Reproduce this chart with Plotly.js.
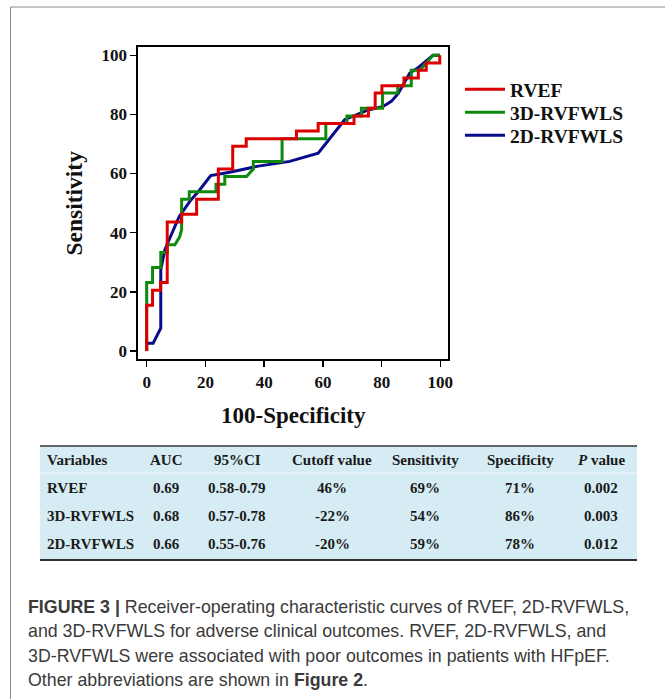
<!DOCTYPE html>
<html>
<head>
<meta charset="utf-8">
<script src="https://cdn.plot.ly/plotly-3.0.1.min.js"></script>
<style>
  html, body { margin: 0; padding: 0; background: #fff; }
  #chart { width: 665px; height: 699px; }
</style>
</head>
<body>
<div id="chart"></div>
<script>
// ---- ROC curve data (100-Specificity, Sensitivity) ----
const rvefX = [0, 0, 2.0, 2.0, 4.7, 4.7, 7.0, 7.0, 11.9, 11.9, 17.0, 17.0, 24.4, 24.4, 29.3, 29.3, 33.9, 33.9, 51.0, 51.0, 58.4, 58.4, 70.6, 70.6, 75.5, 75.5, 77.8, 77.8, 80.1, 80.1, 87.6, 87.6, 92.5, 92.5, 95.2, 95.2, 99.8, 99.8];
const rvefY = [0, 15.4, 15.4, 20.5, 20.5, 23.1, 23.1, 43.6, 43.6, 46.2, 46.2, 51.3, 51.3, 61.5, 61.5, 69.2, 69.2, 71.8, 71.8, 74.4, 74.4, 76.9, 76.9, 79.5, 79.5, 82.1, 82.1, 87.2, 87.2, 89.7, 89.7, 92.3, 92.3, 94.9, 94.9, 97.4, 97.4, 100];

const rv3dX = [0, 0, 2.0, 2.0, 4.8, 4.8, 7.0, 7.0, 9.6, 11.2, 11.9, 11.9, 14.5, 14.5, 23.6, 23.6, 26.6, 26.6, 34.0, 36.3, 36.3, 46.1, 46.1, 61.0, 61.0, 68.2, 68.2, 73.1, 73.1, 80.3, 80.3, 85.5, 85.5, 90.1, 90.1, 93.0, 97.5, 99.8];
const rv3dY = [0, 23.1, 23.1, 28.2, 28.2, 33.3, 33.3, 35.9, 35.9, 38.5, 41.0, 51.3, 51.3, 53.8, 53.8, 56.4, 56.4, 59.0, 59.0, 61.5, 64.1, 64.1, 71.8, 71.8, 76.9, 76.9, 79.5, 79.5, 82.1, 82.1, 87.2, 87.2, 89.7, 89.7, 94.9, 94.9, 100, 100];

const rv2dX = [0, 0, 2.2, 4.8, 4.8, 6.2, 7.9, 11.1, 14.7, 18.1, 21.8, 28.3, 38.0, 48.7, 58.4, 67.4, 74.8, 80.5, 83.3, 85.6, 89.6, 92.0, 97.5, 99.8];
const rv2dY = [0, 2.6, 2.6, 7.7, 27.5, 34.2, 38.2, 45.5, 50.6, 54.5, 59.3, 60.4, 62.5, 64.1, 66.9, 78.2, 81.3, 82.7, 84.4, 87.0, 94.0, 95.5, 100, 100];

const seriesNames = ['RVEF', '3D-RVFWLS', '2D-RVFWLS'];
const seriesColors = ['#dc0000', '#0f8a0f', '#0a0a8c'];

const tickVals = [0, 20, 40, 60, 80, 100];

// ---- Table data ----
const tableHeader = ['Variables', 'AUC', '95%CI', 'Cutoff value', 'Sensitivity', 'Specificity', '<i>P</i> value'];
const tableVariables = ['RVEF', '3D-RVFWLS', '2D-RVFWLS'];
const aucValues = ['0.69', '0.68', '0.66'];
const ciValues = ['0.58-0.79', '0.57-0.78', '0.55-0.76'];
const cutoffValues = ['46%', '-22%', '-20%'];
const sensValues = ['69%', '54%', '59%'];
const specValues = ['71%', '86%', '78%'];
const pValues = ['0.002', '0.003', '0.012'];

// ---- Caption ----
const captionLines = [
  '<b>FIGURE 3 |</b> Receiver-operating characteristic curves of RVEF, 2D-RVFWLS,',
  'and 3D-RVFWLS for adverse clinical outcomes. RVEF, 2D-RVFWLS, and',
  '3D-RVFWLS were associated with poor outcomes in patients with HFpEF.',
  'Other abbreviations are shown in <b>Figure 2</b>.'
];

// ---- Layout helpers (pixel -> paper) ----
const W = 665, H = 699;
const px = v => v / W;
const py = v => 1 - v / H;

const serifBold = {family: 'Liberation Serif, Times New Roman, serif', weight: 'bold', color: '#111'};

// drawn bottom-to-top: blue, green, red; each with its own legend slot
const traces = [
  {x: rv2dX, y: rv2dY, name: seriesNames[2], color: seriesColors[2], legend: 'legend3'},
  {x: rv3dX, y: rv3dY, name: seriesNames[1], color: seriesColors[1], legend: 'legend2'},
  {x: rvefX, y: rvefY, name: seriesNames[0], color: seriesColors[0], legend: 'legend'}
].map(s => ({
  type: 'scatter', mode: 'lines', x: s.x, y: s.y, name: s.name, legend: s.legend,
  line: {color: s.color, width: 3}, hoverinfo: 'skip'
}));

const shapes = [];
const annotations = [];

// Figure frame (left + top border)
shapes.push({type: 'line', xref: 'paper', yref: 'paper', x0: px(10.5), x1: px(665), y0: py(7), y1: py(7), line: {color: '#8a8a8a', width: 1}});
shapes.push({type: 'line', xref: 'paper', yref: 'paper', x0: px(10.5), x1: px(10.5), y0: py(7), y1: py(699), line: {color: '#8a8a8a', width: 1}});

// Table geometry
const tLeft = 40, tRight = 637, tTop = 446, tHeadBottom = 473, tBottom = 560;
shapes.push({type: 'rect', xref: 'paper', yref: 'paper', x0: px(tLeft), x1: px(tRight), y0: py(tBottom), y1: py(tTop), fillcolor: '#d6ecf4', line: {width: 0}, layer: 'below'});
shapes.push({type: 'line', xref: 'paper', yref: 'paper', x0: px(tLeft), x1: px(tRight), y0: py(tTop), y1: py(tTop), line: {color: '#333', width: 1.5}});
shapes.push({type: 'line', xref: 'paper', yref: 'paper', x0: px(tLeft), x1: px(tRight), y0: py(tHeadBottom), y1: py(tHeadBottom), line: {color: '#f2f8fb', width: 1}});
shapes.push({type: 'line', xref: 'paper', yref: 'paper', x0: px(tLeft), x1: px(tRight), y0: py(tBottom), y1: py(tBottom), line: {color: '#333', width: 2}});

const colX = [45, 166, 237, 332, 425, 520, 601];
const rowY = [460, 488, 516, 544];
const tableFont = {family: 'Liberation Serif, Times New Roman, serif', weight: 'bold', size: 15, color: '#1a1a1a'};
const columns = [tableVariables, aucValues, ciValues, cutoffValues, sensValues, specValues, pValues];

tableHeader.forEach((h, c) => {
  annotations.push({xref: 'paper', yref: 'paper', x: px(colX[c]), y: py(rowY[0]), text: h,
    xanchor: c === 0 ? 'left' : 'center', yanchor: 'middle', showarrow: false, font: tableFont});
});
columns.forEach((col, c) => {
  col.forEach((v, r) => {
    annotations.push({xref: 'paper', yref: 'paper', x: px(colX[c]), y: py(rowY[r + 1]), text: v,
      xanchor: c === 0 ? 'left' : 'center', yanchor: 'middle', showarrow: false, font: tableFont});
  });
});

// Caption
const capY = [607, 631, 656, 680];
captionLines.forEach((t, i) => {
  annotations.push({xref: 'paper', yref: 'paper', x: px(26), y: py(capY[i]), text: t,
    xanchor: 'left', yanchor: 'middle', showarrow: false, align: 'left',
    font: {family: 'Liberation Sans, Arial, sans-serif', size: 17.8, color: '#3a3a3a'}});
});

const axisCommon = {
  range: [-2.85, 102.7], tickvals: tickVals, ticktext: tickVals.map(String),
  showgrid: false, zeroline: false, showline: true, mirror: true,
  linecolor: '#000', linewidth: 2, ticks: 'outside', ticklen: 6, tickwidth: 1.5, tickcolor: '#000',
  tickfont: Object.assign({size: 17}, serifBold), fixedrange: true
};

const legendBase = top => ({
  x: px(460), y: py(top), xanchor: 'left', yanchor: 'top',
  font: Object.assign({size: 19.5}, serifBold), itemwidth: 40, bgcolor: 'rgba(0,0,0,0)'
});

const layout = {
  width: W, height: H,
  margin: {l: 0, r: 0, t: 0, b: 0},
  paper_bgcolor: '#fff', plot_bgcolor: '#fff',
  showlegend: true,
  legend: legendBase(70),
  legend2: legendBase(93),
  legend3: legendBase(116),
  xaxis: Object.assign({}, axisCommon, {
    domain: [px(138.3), px(448.3)],
    title: {text: '100-Specificity', font: Object.assign({size: 23}, serifBold), standoff: 16}
  }),
  yaxis: Object.assign({}, axisCommon, {
    domain: [py(359.3), py(47.3)],
    title: {text: 'Sensitivity', font: Object.assign({size: 23.5}, serifBold), standoff: 12}
  }),
  shapes: shapes,
  annotations: annotations
};

Plotly.newPlot('chart', traces, layout, {displayModeBar: false, staticPlot: true});
</script>
</body>
</html>
